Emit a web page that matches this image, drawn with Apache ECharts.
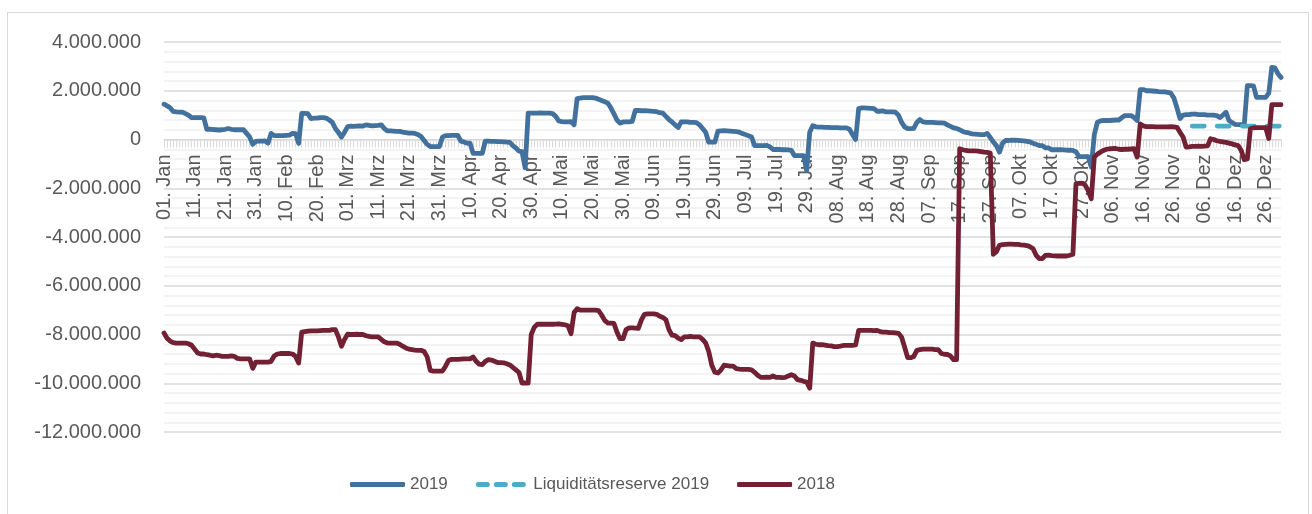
<!DOCTYPE html>
<html>
<head>
<meta charset="utf-8">
<script src="https://cdn.jsdelivr.net/npm/echarts@6/dist/echarts.min.js"></script>
<style>
    html, body { margin: 0; padding: 0; background: #fff; }
    #chart { width: 1312px; height: 514px; }
    #frame {
        position: absolute; left: 7px; top: 12px; width: 1300px; height: 520px;
        border: 1.5px solid #D9D9D9; pointer-events: none;
    }
</style>
</head>
<body>
<div id="chart"></div>
<div id="frame"></div>
<script>
'use strict';

// Monatsnamen fuer die X-Achse (Tagesraster, Schaltjahr-Kalender wie im Original)
var monthNames = ['Jan', 'Feb', 'Mrz', 'Apr', 'Mai', 'Jun', 'Jul', 'Aug', 'Sep', 'Okt', 'Nov', 'Dez'];
var monthDays = [31, 29, 31, 30, 31, 30, 31, 31, 30, 31, 30, 31];

// Kontostand 2019 in Tsd. EUR, ein Wert pro Tag
var saldo2019 = [
    1450, 1380, 1300, 1150, 1130, 1120, 1120, 1060, 1000, 900,
    900, 900, 900, 890, 420, 430, 410, 400, 390, 400,
    420, 450, 420, 400, 400, 400, 400, 250, 100, -200,
    -80, -70, -70, -60, -150, 250, 160, 160, 160, 160,
    170, 180, 250, 240, -160, 1070, 1070, 1060, 860, 880,
    880, 900, 900, 880, 800, 700, 450, 290, 100, 300,
    530, 550, 540, 550, 560, 550, 600, 580, 560, 570,
    580, 600, 450, 350, 350, 340, 330, 330, 300, 280,
    260, 260, 250, 200, 120, -40, -200, -290, -290, -290,
    -290, 100, 160, 160, 170, 170, 170, -70, -100, -150,
    -150, -570, -570, -570, -570, -70, -70, -80, -80, -90,
    -90, -100, -110, -120, -250, -350, -480, -500, -1160, 1080,
    1080, 1080, 1080, 1090, 1080, 1080, 1080, 1060, 950, 760,
    730, 720, 720, 730, 600, 1680, 1700, 1720, 1720, 1720,
    1720, 1700, 1650, 1600, 1550, 1500, 1300, 1060, 800, 670,
    720, 720, 720, 740, 1190, 1190, 1180, 1180, 1170, 1160,
    1150, 1140, 1100, 1080, 950, 820, 720, 600, 490, 720,
    720, 720, 700, 700, 690, 600, 450, 300, -110, -110,
    -110, 340, 350, 360, 350, 340, 330, 320, 300, 250,
    200, 150, 100, -250, -250, -250, -250, -240, -300, -410,
    -410, -410, -420, -420, -430, -450, -660, -660, -660, -660,
    -1270, 300, 570, 520, 510, 510, 500, 500, 490, 490,
    490, 480, 480, 480, 420, 200, 0, 1270, 1300, 1300,
    1290, 1280, 1270, 1160, 1160, 1170, 1130, 1130, 1130, 1120,
    1000, 710, 520, 450, 450, 460, 700, 820, 720, 700,
    700, 700, 690, 680, 680, 670, 600, 540, 480, 450,
    400, 330, 290, 270, 230, 220, 210, 200, 200, 250,
    80, -100, -250, -520, -150, -40, -40, -30, -30, -40,
    -50, -60, -80, -100, -150, -200, -250, -250, -340, -340,
    -420, -420, -420, -420, -430, -440, -440, -450, -500, -700,
    -700, -700, -700, -1130, 200, 710, 760, 780, 780, 780,
    790, 800, 800, 900, 980, 980, 980, 900, 780, 2050,
    2050, 2000, 2000, 1990, 1980, 1960, 1950, 1950, 1930, 1900,
    1700, 1300, 860, 1000, 1020, 1020, 1040, 1040, 1020, 1020,
    1020, 1000, 1000, 1000, 980, 900, 1000, 1120, 780, 700,
    620, 610, 610, 610, 2210, 2210, 2200, 1730, 1730, 1730,
    1730, 1900, 2960, 2940, 2700, 2550
];

// Liquiditaetsreserve 2019 in Tsd. EUR, ab 02. Dez
var reserveStart = '02. Dez';
var reserve2019 = [
    550, 550, 550, 550, 550, 550, 550, 550, 550, 550,
    550, 550, 550, 550, 550, 550, 550, 550, 550, 550,
    550, 550, 550, 550, 550, 550, 550, 550, 550, 550
];

// Kontostand 2018 in Tsd. EUR, ein Wert pro Tag
var saldo2018 = [
    -7940, -8150, -8270, -8330, -8350, -8350, -8350, -8350, -8380, -8440,
    -8600, -8760, -8800, -8800, -8830, -8850, -8880, -8850, -8870, -8900,
    -8900, -8900, -8880, -8900, -8980, -9000, -9000, -9000, -9000, -9390,
    -9130, -9130, -9130, -9130, -9130, -9100, -8880, -8800, -8780, -8780,
    -8780, -8780, -8800, -8900, -9170, -7900, -7880, -7860, -7850, -7850,
    -7850, -7840, -7830, -7830, -7830, -7800, -7800, -8100, -8480, -8200,
    -7990, -8000, -8000, -7990, -8000, -8000, -8050, -8080, -8100, -8100,
    -8100, -8200, -8300, -8350, -8350, -8350, -8350, -8400, -8480, -8550,
    -8600, -8620, -8640, -8650, -8650, -8700, -8920, -9470, -9500, -9500,
    -9500, -9500, -9300, -9060, -9020, -9020, -9020, -9010, -9000, -9000,
    -9000, -8920, -9100, -9220, -9240, -9100, -9030, -9050, -9100, -9150,
    -9150, -9160, -9200, -9250, -9350, -9450, -9560, -9990, -9990, -9990,
    -8000, -7700, -7580, -7580, -7580, -7570, -7580, -7580, -7570, -7560,
    -7580, -7600, -7640, -7970, -7100, -6940, -7000, -7000, -7000, -7000,
    -7000, -7000, -7020, -7200, -7420, -7530, -7530, -7540, -7900, -8170,
    -8170, -7800, -7730, -7730, -7740, -7750, -7400, -7170, -7150, -7150,
    -7150, -7170, -7250, -7300, -7390, -7800, -8030, -8050, -8150, -8210,
    -8100, -8100, -8080, -8100, -8100, -8100, -8200, -8350, -8700, -9260,
    -9550, -9580, -9450, -9260, -9280, -9300, -9300, -9400, -9420, -9430,
    -9430, -9430, -9450, -9550, -9670, -9760, -9760, -9750, -9760, -9700,
    -9760, -9760, -9770, -9760, -9700, -9650, -9700, -9850, -9880, -9920,
    -9950, -10200, -8350, -8400, -8420, -8420, -8440, -8460, -8470, -8500,
    -8500, -8480, -8450, -8450, -8450, -8450, -8430, -7830, -7830, -7830,
    -7830, -7830, -7840, -7830, -7880, -7900, -7900, -7920, -7920, -7930,
    -7950, -8100, -8510, -8950, -8950, -8900, -8650, -8620, -8600, -8600,
    -8600, -8600, -8620, -8620, -8780, -8810, -8820, -8880, -9030, -9030,
    -380, -420, -450, -470, -470, -470, -480, -500, -520, -530,
    -560, -4710, -4600, -4340, -4310, -4300, -4290, -4290, -4300, -4300,
    -4320, -4330, -4350, -4400, -4480, -4750, -4890, -4890, -4750, -4740,
    -4760, -4770, -4780, -4780, -4770, -4780, -4750, -4710, -1820, -1800,
    -1790, -1870, -2100, -2430, -720, -600, -520, -450, -400, -380,
    -370, -370, -400, -410, -400, -400, -390, -380, -720, 640,
    560, 530, 530, 530, 520, 520, 520, 520, 520, 530,
    520, 500, 300, 100, -310, -300, -280, -280, -270, -280,
    -270, -260, 30, 0, -50, -80, -100, -120, -150, -180,
    -220, -250, -450, -830, -800, 440, 480, 490, 490, 490,
    490, 40, 1430, 1430, 1430, 1430
];

// Achsenbereich Y
var yMin = -12000000;
var yMax = 4000000;
var yStep = 2000000;

// Legendensymbole: durchgezogen bzw. gestrichelt
var iconSolid = 'roundRect';
var iconDashed = 'path://M2.5,0h9a2.5,2.5 0 0 1 0,5h-9a2.5,2.5 0 0 1 0,-5z' +
    'M20.5,0h9a2.5,2.5 0 0 1 0,5h-9a2.5,2.5 0 0 1 0,-5z' +
    'M38.5,0h9a2.5,2.5 0 0 1 0,5h-9a2.5,2.5 0 0 1 0,-5z';

// Tageslabels "01. Jan" ... "31. Dez"
function buildDays() {
    var arr = [];
    for (var m = 0; m < 12; m++) {
        for (var d = 1; d <= monthDays[m]; d++) {
            arr.push((d < 10 ? '0' + d : '' + d) + '. ' + monthNames[m]);
        }
    }
    return arr;
}

function fmtDE(v) {
    var neg = v < 0;
    var s = String(Math.abs(Math.round(v))).replace(/\B(?=(\d{3})+(?!\d))/g, '.');
    return (neg ? '-' : '') + s;
}

function toEuro(arr) {
    return arr.map(function (v) { return v * 1000; });
}

var days = buildDays();
var reserveIdx = days.indexOf(reserveStart);
var reserveData = days.map(function (d, i) {
    var v = reserve2019[i - reserveIdx];
    return (i >= reserveIdx && v != null) ? v * 1000 : null;
});

var gridTop = 42;
var gridBottom = 82;
var plotH = 514 - gridTop - gridBottom;
// X-Achse auf Hoehe der Nulllinie schieben (Beschriftung inklusive)
var zeroOffset = -plotH * (0 - yMin) / (yMax - yMin);

var labelColor = '#595959';
var chart = echarts.init(document.getElementById('chart'));

var option = {
    animation: false,
    grid: {
        left: 164,
        right: 31,
        top: gridTop,
        bottom: gridBottom
    },
    legend: {
        top: 471,
        left: 345,
        itemWidth: 55,
        itemHeight: 5,
        itemGap: 28,
        textStyle: {
            fontFamily: 'Liberation Sans',
            fontSize: 17,
            color: labelColor
        },
        data: [
            { name: '2019', icon: iconSolid },
            { name: 'Liquiditätsreserve 2019', icon: iconDashed },
            { name: '2018', icon: iconSolid }
        ]
    },
    xAxis: {
        type: 'category',
        boundaryGap: false,
        data: days,
        offset: zeroOffset,
        axisLine: {
            onZero: false,
            lineStyle: { color: '#D9D9D9', width: 1 }
        },
        axisTick: {
            show: true,
            interval: 0,
            length: 8,
            lineStyle: { color: '#D9D9D9' }
        },
        axisLabel: {
            interval: 9,
            rotate: 90,
            margin: 15,
            fontFamily: 'Liberation Sans',
            fontSize: 20,
            color: labelColor
        },
        splitLine: { show: false }
    },
    yAxis: {
        type: 'value',
        min: yMin,
        max: yMax,
        interval: yStep,
        axisLine: { show: false },
        axisTick: { show: false },
        axisLabel: {
            margin: 23,
            fontFamily: 'Liberation Sans',
            fontSize: 20,
            color: labelColor,
            formatter: fmtDE
        },
        splitLine: {
            lineStyle: { color: '#D9D9D9', width: 1.5 }
        },
        minorTick: { show: false, splitNumber: 5 },
        minorSplitLine: {
            show: true,
            lineStyle: { color: '#EFEFEF', width: 1.5 }
        }
    },
    series: [
        {
            name: '2019',
            type: 'line',
            symbol: 'none',
            data: toEuro(saldo2019),
            lineStyle: { color: '#41719C', width: 4.8, cap: 'round', join: 'round' },
            itemStyle: { color: '#41719C' }
        },
        {
            name: 'Liquiditätsreserve 2019',
            type: 'line',
            symbol: 'none',
            data: reserveData,
            lineStyle: { color: '#4BACC6', width: 4.8, type: [12, 13], cap: 'round' },
            itemStyle: { color: '#4BACC6' }
        },
        {
            name: '2018',
            type: 'line',
            symbol: 'none',
            data: toEuro(saldo2018),
            lineStyle: { color: '#722034', width: 4.8, cap: 'round', join: 'round' },
            itemStyle: { color: '#722034' }
        }
    ]
};

chart.setOption(option);
</script>
</body>
</html>
